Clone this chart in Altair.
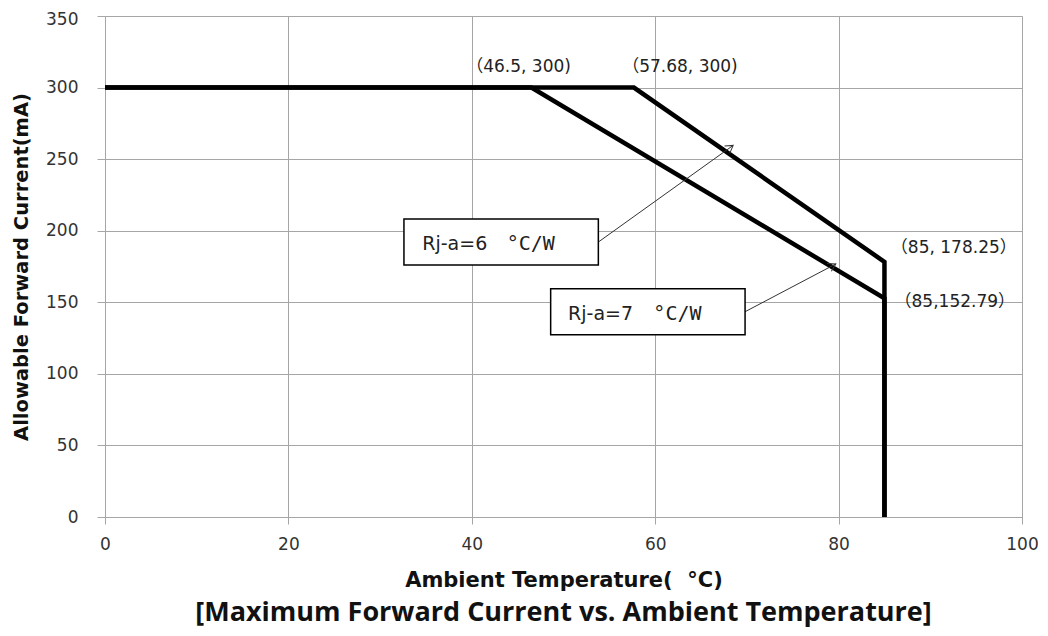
import altair as alt
import pandas as pd
import numpy as np

# ---- data ----
series_names = ["Rj-a=6", "Rj-a=6", "Rj-a=6", "Rj-a=6", "Rj-a=7", "Rj-a=7", "Rj-a=7", "Rj-a=7"]
temps = [0, 57.68, 85, 85, 0, 46.5, 85, 85]
currents = [300, 300, 178.25, 0, 300, 300, 152.79, 0]
orders = [0, 1, 2, 3, 0, 1, 2, 3]

point_labels = ["\uff0846.5, 300)", "\uff0857.68, 300)", "\uff0885, 178.25\uff09", "\uff0885,152.79\uff09"]
point_label_x = [45.1, 62.7, 85.7, 86.1]
point_label_y = [314.5, 314.5, 187.9, 150.3]
point_label_align = ["center", "center", "left", "left"]

box_names = ["Rj-a=6", "Rj-a=7"]
box_units = ["\u00b0C/W", "\u00b0C/W"]
box_x1 = [32.6, 48.6]
box_x2 = [53.8, 69.8]
box_y1 = [208.1, 159.4]
box_y2 = [176.1, 127.3]
box_name_x = [34.6, 50.5]
box_unit_x = [43.8, 59.8]
box_text_y = [190.7, 142.0]

arrow_x1 = [53.8, 69.8]
arrow_y1 = [192.1, 143.4]
arrow_x2 = [68.5, 79.7]
arrow_y2 = [259.6, 176.8]

x_ticks = [0, 20, 40, 60, 80, 100]
y_ticks = [0, 50, 100, 150, 200, 250, 300, 350]

W, H = 917, 501

lines_df = pd.DataFrame({"T": temps, "I": currents, "series": series_names, "ord": orders})
labels_df = pd.DataFrame({"x": point_label_x, "y": point_label_y, "t": point_labels, "a": point_label_align})
boxes_df = pd.DataFrame({"x1": box_x1, "x2": box_x2, "y1": box_y1, "y2": box_y2,
                         "nx": box_name_x, "ux": box_unit_x, "ty": box_text_y,
                         "n": box_names, "u": box_units})
ax1 = np.array(arrow_x1); ay1 = np.array(arrow_y1)
ax2 = np.array(arrow_x2); ay2 = np.array(arrow_y2)
dxp = (ax2 - ax1) * W / 100.0
dyp = -(ay2 - ay1) * H / 350.0
angles = (np.degrees(np.arctan2(dyp, dxp)) + 360) % 360
arrows_df = pd.DataFrame({"x1": ax1, "y1": ay1, "x2": ax2, "y2": ay2, "ang": angles})

xs = alt.Scale(domain=[0, 100], nice=False)
ys = alt.Scale(domain=[0, 350], nice=False)

common = dict(grid=True, gridColor="#a6a6a6", gridWidth=1, domainColor="#a6a6a6",
              tickColor="#a6a6a6", labelFont="DejaVu Sans", labelFontSize=17,
              labelColor="#333333", labelFlush=False, labelOverlap=False,
              titleFont="DejaVu Sans", titleFontWeight="bold", titleColor="#111111")
xaxis = alt.Axis(values=x_ticks, title="Ambient Temperature(\u00a0\u00a0\u00b0C)", tickSize=7,
                 labelPadding=12, titlePadding=17, titleFontSize=21, **common)
yaxis = alt.Axis(values=y_ticks, title="Allowable Forward Current(mA)", tickSize=8,
                 labelPadding=19, titlePadding=14, titleFontSize=19.5,
                 labelOffset={"condition": {"test": "datum.value == 350", "value": 3}, "value": 0},
                 **common)

lines = alt.Chart(lines_df).mark_line(color="black", strokeWidth=4.5, strokeJoin="miter").encode(
    x=alt.X("T:Q", scale=xs, axis=xaxis),
    y=alt.Y("I:Q", scale=ys, axis=yaxis),
    detail="series:N",
    order="ord:Q",
)

boxes = alt.Chart(boxes_df).mark_rect(fill="white", stroke="black", strokeWidth=1.5).encode(
    x=alt.X("x1:Q", scale=xs), x2="x2:Q", y=alt.Y("y1:Q", scale=ys), y2="y2:Q")

box_name = alt.Chart(boxes_df).mark_text(align="left", baseline="middle", font="DejaVu Sans",
                                         fontSize=19, color="#222222").encode(
    x=alt.X("nx:Q", scale=xs), y=alt.Y("ty:Q", scale=ys), text="n:N")
box_unit = alt.Chart(boxes_df).mark_text(align="left", baseline="middle", font="DejaVu Sans Mono",
                                         fontSize=20, color="#222222").encode(
    x=alt.X("ux:Q", scale=xs), y=alt.Y("ty:Q", scale=ys), text="u:N")

arrow_lines = alt.Chart(arrows_df).mark_rule(color="#333333", strokeWidth=1).encode(
    x=alt.X("x1:Q", scale=xs), y=alt.Y("y1:Q", scale=ys), x2="x2:Q", y2="y2:Q")

arrow_heads = alt.Chart(arrows_df).mark_point(
    shape="M -1 -0.6 L 0 0 L -1 0.6", filled=False, color="#333333", strokeWidth=1, size=220,
    opacity=1).encode(
    x=alt.X("x2:Q", scale=xs), y=alt.Y("y2:Q", scale=ys), angle=alt.Angle("ang:Q", scale=None))

pt_labels_c = alt.Chart(labels_df[labels_df.a == "center"]).mark_text(
    align="center", baseline="middle", font="DejaVu Sans, Noto Sans CJK SC", fontSize=17,
    color="#222222").encode(x=alt.X("x:Q", scale=xs), y=alt.Y("y:Q", scale=ys), text="t:N")
pt_labels_l = alt.Chart(labels_df[labels_df.a == "left"]).mark_text(
    align="left", baseline="middle", font="DejaVu Sans, Noto Sans CJK SC", fontSize=17,
    color="#222222").encode(x=alt.X("x:Q", scale=xs), y=alt.Y("y:Q", scale=ys), text="t:N")

chart = alt.layer(lines, arrow_lines, arrow_heads, boxes, box_name, box_unit,
                  pt_labels_c, pt_labels_l).properties(
    width=W, height=H,
    autosize=alt.AutoSizeParams(type="none"),
    padding={"left": 97, "top": 8, "right": 16, "bottom": 111},
    title=alt.TitleParams("[Maximum Forward Current vs. Ambient Temperature]", orient="bottom",
                          anchor="middle", font="Open Sans", fontSize=27, fontWeight="bold",
                          color="#111111", offset=10),
).configure_view(stroke="#a6a6a6", strokeWidth=1).configure(background="white")

chart.save("out.html", embed_options={"renderer": "svg", "actions": False})
